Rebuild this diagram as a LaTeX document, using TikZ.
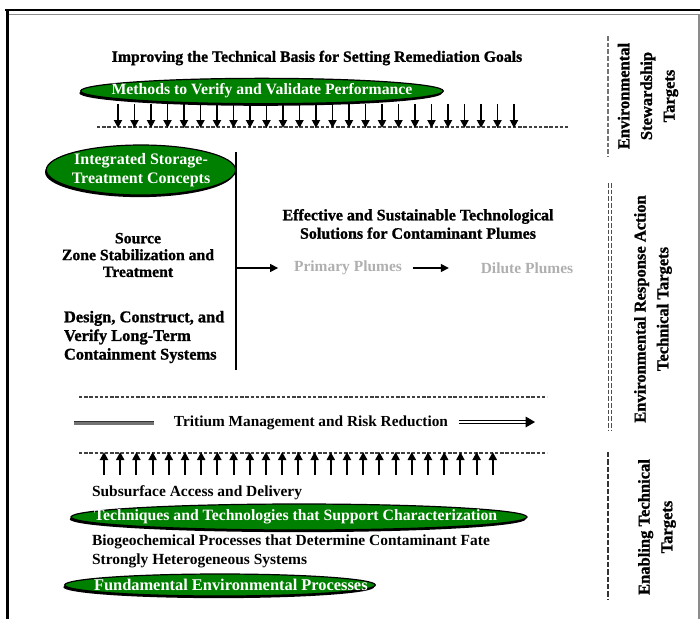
\documentclass[tikz,border=0pt]{standalone}
\usepackage{fontspec}
\setmainfont{Liberation Serif}
\newfontfamily\heavyfont[BoldFeatures={FakeBold=1.2}]{Liberation Serif}
\usetikzlibrary{arrows.meta,shapes.geometric,shadows}
\definecolor{leafgreen}{RGB}{0,128,0}
\definecolor{plumegray}{RGB}{175,175,175}

\tikzset{
  every node/.style={inner sep=0pt, outer sep=0pt},
  oval/.style={ellipse, draw=black, line width=0.9pt, fill=leafgreen,
    drop shadow={shadow xshift=-1pt, shadow yshift=-1.6pt, fill=black, opacity=1}},
  ovaltext/.style={text=white, font=\fontsize{11.8}{13}\selectfont\bfseries},
  heading/.style={font=\heavyfont\fontsize{11.8}{13.5}\selectfont\bfseries, align=center},
  plaintext/.style={font=\fontsize{11.6}{14}\selectfont\bfseries},
  heavytext/.style={font=\heavyfont\fontsize{11.8}{13}\selectfont\bfseries},
  plume/.style={text=plumegray, font=\fontsize{11.6}{13}\selectfont\bfseries},
  sidelabel/.style={rotate=90, align=center, font=\heavyfont\fontsize{12.4}{17}\selectfont\bfseries},
  tickarrow/.style={line width=1.4pt, -{Triangle[length=6pt,width=6pt]}},
  flowarrow/.style={line width=1pt, -{Triangle[length=6pt,width=6pt]}},
  splitline/.style={black!75, line width=0.9pt, dash pattern=on 2.6pt off 1.3pt},
  sidedash/.style={black!70, line width=0.9pt, dash pattern=on 3.5pt off 1.5pt},
}

\begin{document}
\begin{tikzpicture}[x=0.75pt,y=-0.75pt]
\useasboundingbox (0,0) rectangle (700,619);

% page frame
\draw[line width=2.2pt] (5,10) -- (700,10);
\draw[black!45, line width=1pt] (9,14.5) -- (700,14.5);
\draw[line width=2.4pt] (7.5,11) -- (7.5,619);
\draw[black!45, line width=0.8pt] (699,15) -- (699,619);

% ---------- stewardship band ----------
\node[heading] (goals) at (317,58) {Improving the Technical Basis for Setting Remediation Goals};
\node[oval, minimum width=272pt, minimum height=19pt] (verify) at (262,91) {};
\node[ovaltext] (verifytxt) at (verify.center) {Methods to Verify and Validate Performance};

\coordinate (dashA1) at (97,127);
\coordinate (dashA2) at (568,127);
\draw[splitline] (dashA1) -- (dashA2);
\foreach \i in {0,...,24}
  \draw[tickarrow] ({118+\i*16.5},104) -- ({118+\i*16.5},128);

\coordinate (sideA1) at (608,36);
\coordinate (sideA2) at (608,157);
\draw[sidedash, black!55] (sideA1) -- (sideA2);
\node[sidelabel] (stewardship) at (648,96) {Environmental\\Stewardship\\Targets};

% ---------- response action band ----------
\node[oval, minimum width=142pt, minimum height=37.5pt] (storage) at (141,170) {};
\node[ovaltext, font=\fontsize{12}{14.5}\selectfont\bfseries, align=center] (storagetxt)
  at (storage.center) {Integrated Storage-\\Treatment Concepts};

\coordinate (spineTop) at (236,152);
\coordinate (spineBot) at (236,370);
\coordinate (spineMid) at (236,268);
\draw[line width=1.1pt] (spineTop) -- (spineBot);

\node[heavytext, align=center, font=\heavyfont\fontsize{11.8}{12.6}\selectfont\bfseries]
  (source) at (138,255) {Source\\Zone Stabilization and\\Treatment};
\node[heavytext, align=left, anchor=west, font=\heavyfont\fontsize{12.3}{14}\selectfont\bfseries]
  (contain) at (64,337) {Design, Construct, and\\Verify Long-Term\\Containment Systems};

\node[heading, font=\heavyfont\fontsize{12}{13.8}\selectfont\bfseries] (plumes) at (418,224)
  {Effective and Sustainable Technological\\Solutions for Contaminant Plumes};
\node[plume] (primary) at (348,268) {Primary Plumes};
\node[plume] (dilute) at (527,268) {Dilute Plumes};
\draw[flowarrow] (spineMid) -- ([xshift=-12pt]primary.west);
\draw[flowarrow] ([xshift=8pt]primary.east) -- ([xshift=-24pt]dilute.west);

\coordinate (sideB1) at (610,183);
\coordinate (sideB2) at (610,430);
\draw[sidedash] ([xshift=-0.9pt]sideB1) -- ([xshift=-0.9pt]sideB2);
\draw[sidedash] ([xshift=0.9pt]sideB1) -- ([xshift=0.9pt]sideB2);
\node[sidelabel] (response) at (653,309) {Environmental Response Action\\Technical Targets};

% ---------- tritium ----------
\coordinate (dashB1) at (79,397);
\coordinate (dashB2) at (547,397);
\draw[splitline] (dashB1) -- (dashB2);
\node[font=\fontsize{11.5}{13}\selectfont\bfseries] (tritium) at (311,423)
  {Tritium Management and Risk Reduction};
\coordinate (barL) at (74,423);
\draw[black!55, line width=2.6pt] (barL) -- ([xshift=-15pt]tritium.west);
\draw[black!80, line width=0.7pt] ([yshift=1pt]barL) -- ([xshift=-15pt,yshift=1pt]tritium.west);
\coordinate (tritiumEnd) at (535,422);
\draw[double, double distance=1.6pt, line width=0.6pt, -{Triangle[length=7pt,width=8pt]}]
  ([xshift=8pt]tritium.east |- tritiumEnd) -- (tritiumEnd);

\coordinate (dashC1) at (79,453);
\coordinate (dashC2) at (547,453);
\draw[splitline] (dashC1) -- (dashC2);
\foreach \i in {0,...,24}
  \draw[tickarrow] ({104+\i*16.2},475) -- ({104+\i*16.2},452);

% ---------- enabling band ----------
\node[plaintext, anchor=west] (access) at (92,493) {Subsurface Access and Delivery};
\node[oval, minimum width=342pt, minimum height=19.5pt] (charact) at (299,517) {};
\node[ovaltext, anchor=west, font=\fontsize{11.8}{13}\selectfont\bfseries] (characttxt)
  at (94,517) {Techniques and Technologies that Support Characterization};
\node[plaintext, anchor=west, align=left, font=\fontsize{11.6}{14.2}\selectfont\bfseries] (fate) at (92,551)
  {Biogeochemical Processes that Determine Contaminant Fate\\Strongly Heterogeneous Systems};
\node[oval, minimum width=233pt, minimum height=16.5pt] (fundamental) at (220,585) {};
\node[ovaltext, anchor=west, font=\fontsize{12.3}{14}\selectfont\bfseries] (fundtxt)
  at (94,585) {Fundamental Environmental Processes};

\coordinate (sideC1) at (608,452);
\coordinate (sideC2) at (608,600);
\draw[black!80, line width=1.6pt, dash pattern=on 4pt off 1.5pt] (sideC1) -- (sideC2);
\node[sidelabel] (enabling) at (657,527) {Enabling Technical\\Targets};
\end{tikzpicture}
\end{document}
